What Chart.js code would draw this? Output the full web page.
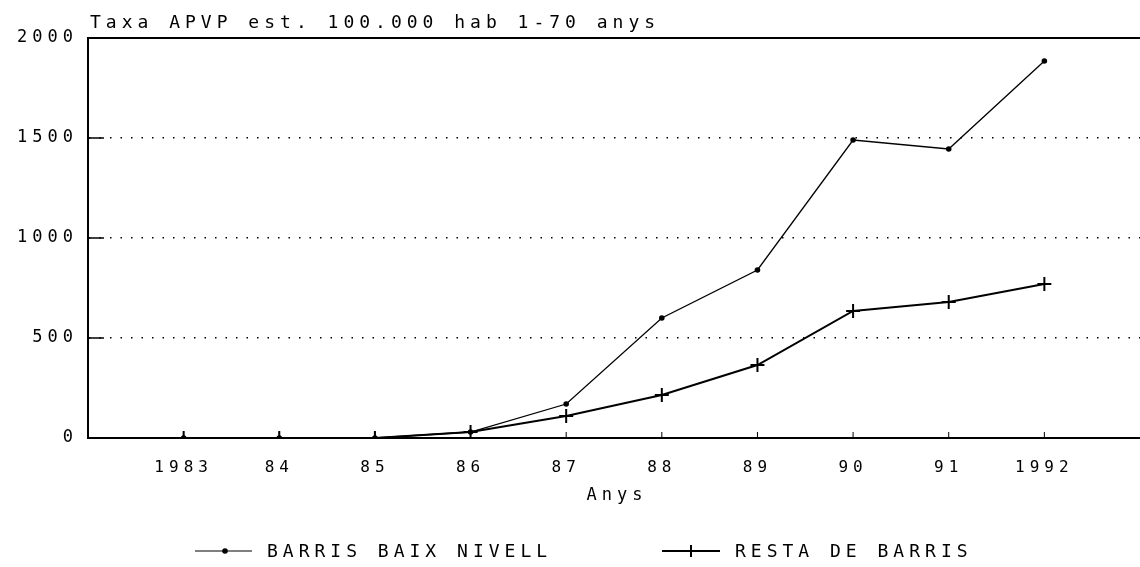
<!DOCTYPE html>
<html>
<head>
<meta charset="utf-8">
<script src="https://cdn.jsdelivr.net/npm/chart.js@4/dist/chart.umd.min.js"></script>
<style>
  html, body { margin: 0; padding: 0; background: #fff; overflow: hidden; }
  #wrap { width: 1140px; height: 567px; position: relative; }
  canvas { display: block; }
</style>
</head>
<body>
<div id="wrap"><canvas id="chartapvp"></canvas></div>
<script>
// data
var anys = ['', '1983', '84', '85', '86', '87', '88', '89', '90', '91', '1992', ''];
var baixNivell = [null, 0, 0, 0, 30, 170, 600, 840, 1490, 1445, 1885, null];
var restaBarris = [null, 0, 0, 0, 30, 110, 215, 365, 635, 680, 770, null];
var yTicks = [0, 500, 1000, 1500, 2000];
var titol = 'Taxa APVP est. 100.000 hab 1-70 anys';
var titolEix = 'Anys';
var nomSerie1 = 'BARRIS BAIX NIVELL';
var nomSerie2 = 'RESTA DE BARRIS';

var FONT = '"DejaVu Sans Mono", monospace';

// plotter look: wide letter spacing on everything
var spacing = {
    id: 'spacing',
    beforeLayout: function(chart) { chart.ctx.letterSpacing = '5px'; },
    beforeDraw: function(chart) { chart.ctx.letterSpacing = '5px'; }
};

var extras = {
    id: 'extras',
    afterDraw: function(chart) {
        var ctx = chart.ctx;
        var a = chart.chartArea;
        var xs = chart.scales.x;
        var ys = chart.scales.y;
        ctx.save();
        ctx.strokeStyle = '#000';
        ctx.fillStyle = '#000';
        // top frame line
        ctx.lineWidth = 2;
        ctx.beginPath();
        ctx.moveTo(a.left, a.top);
        ctx.lineTo(a.right, a.top);
        ctx.stroke();
        // short inner ticks on y
        ctx.lineWidth = 1.5;
        for (var i = 1; i < yTicks.length - 1; i++) {
            var py = ys.getPixelForValue(yTicks[i]);
            ctx.beginPath();
            ctx.moveTo(a.left, py);
            ctx.lineTo(a.left + 16, py);
            ctx.stroke();
        }
        // short inner ticks on x
        ctx.lineWidth = 1;
        for (var j = 1; j < anys.length - 1; j++) {
            var px = xs.getPixelForValue(j);
            ctx.beginPath();
            ctx.moveTo(px, a.bottom);
            ctx.lineTo(px, a.bottom - 6);
            ctx.stroke();
        }
        // title
        ctx.letterSpacing = '5px';
        ctx.font = '18px ' + FONT;
        ctx.textAlign = 'left';
        ctx.textBaseline = 'middle';
        ctx.fillText(titol, 90, 23);
        // axis title
        ctx.font = '17px ' + FONT;
        ctx.textAlign = 'center';
        ctx.fillText(titolEix, 617, 496);
        // legend
        ctx.font = '18px ' + FONT;
        ctx.textAlign = 'left';
        var ly = 551;
        ctx.lineWidth = 1.2;
        ctx.beginPath();
        ctx.moveTo(195, ly);
        ctx.lineTo(252, ly);
        ctx.stroke();
        ctx.beginPath();
        ctx.arc(225, ly, 2.8, 0, Math.PI * 2);
        ctx.fill();
        ctx.fillText(nomSerie1, 267, ly + 1);
        ctx.lineWidth = 2;
        ctx.beginPath();
        ctx.moveTo(662, ly);
        ctx.lineTo(720, ly);
        ctx.moveTo(691, ly - 6);
        ctx.lineTo(691, ly + 6);
        ctx.stroke();
        ctx.fillText(nomSerie2, 735, ly + 1);
        ctx.restore();
    }
};

var ctx_chart = document.getElementById('chartapvp').getContext('2d');
var chart = new Chart(ctx_chart, {
    type: 'line',
    data: {
        labels: anys,
        datasets: [{
            label: nomSerie1,
            data: baixNivell,
            borderColor: '#000',
            borderWidth: 1.3,
            backgroundColor: '#000',
            pointStyle: 'circle',
            pointRadius: 2.8,
            pointBorderWidth: 0,
            tension: 0
        }, {
            label: nomSerie2,
            data: restaBarris,
            borderColor: '#000',
            borderWidth: 2,
            backgroundColor: '#000',
            pointStyle: 'cross',
            pointRadius: 7,
            pointBorderWidth: 2,
            tension: 0
        }]
    },
    options: {
        responsive: true,
        maintainAspectRatio: false,
        animation: false,
        layout: { autoPadding: false, padding: { top: 38, right: 0, left: 0, bottom: 0 } },
        plugins: {
            legend: { display: false },
            title: { display: false },
            tooltip: { enabled: false }
        },
        scales: {
            x: {
                grid: { display: false, drawTicks: false },
                border: { display: true, color: '#000', width: 2 },
                ticks: {
                    color: '#000',
                    font: { family: FONT, size: 16 },
                    padding: 20,
                    maxRotation: 0,
                    autoSkip: false
                },
                afterFit: function(scale) {
                    scale.height = 129;
                    scale.paddingLeft = 0;
                    scale.paddingRight = 0;
                }
            },
            y: {
                min: 0,
                max: 2000,
                afterBuildTicks: function(scale) {
                    scale.ticks = yTicks.map(function(v) { return { value: v }; });
                },
                grid: {
                    drawTicks: false,
                    color: function(c) {
                        if (c.tick && (c.tick.value === 0 || c.tick.value === 2000)) return 'rgba(0,0,0,0)';
                        return '#000';
                    },
                    lineWidth: 1.5
                },
                border: { display: true, color: '#000', width: 2, dash: [1.5, 9] },
                ticks: {
                    color: '#000',
                    font: { family: FONT, size: 17 },
                    padding: 10,
                    callback: function(v) { return String(v); }
                },
                afterFit: function(scale) { scale.width = 88; }
            }
        }
    },
    plugins: [spacing, extras]
});
</script>
</body>
</html>
